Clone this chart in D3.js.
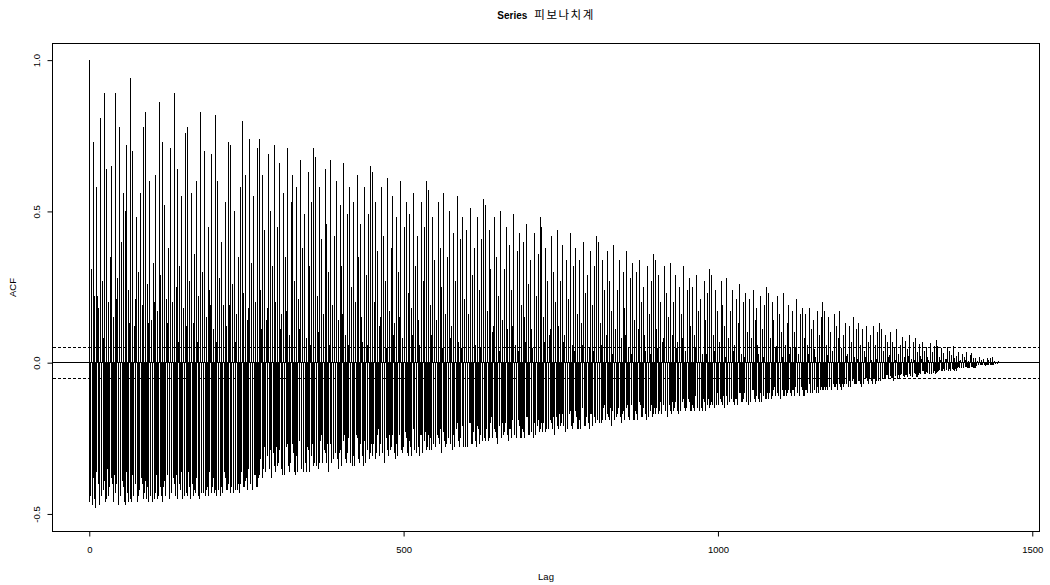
<!DOCTYPE html>
<html>
<head>
<meta charset="utf-8">
<script src="https://cdn.jsdelivr.net/npm/d3@7"></script>
<style>
  body { margin: 0; background: #fff; }
  svg { display: block; }
  text { font-family: "Liberation Sans", Arial, sans-serif; fill: #000; }
</style>
</head>
<body>
<svg width="1050" height="585"></svg>
<script>
// ACF by lag (lag = index) (30 lags per row)
const acfValues = [
  1.00,-.46,-.44,.31,.14,-.47,.73,-.38,-.45,.22,-.48,-.36,.58,.22,-.40,.18,-.35,-.47,.81,-.44,-.38,.27,.08,-.42,.89,-.39,-.46,.64,-.45,-.35,
  .20,-.44,-.41,.35,.14,-.38,.65,-.40,-.46,.15,-.37,-.43,.89,.21,-.40,.28,-.42,-.47,.78,-.35,-.44,.40,.08,-.39,.56,-.41,-.46,.50,-.47,-.36,
  .72,-.43,-.46,.24,.13,-.45,.94,-.46,-.37,.70,-.41,-.44,.12,.21,-.40,.48,-.36,-.46,.30,-.44,-.42,.56,.08,-.38,.19,-.40,-.45,.78,-.43,-.39,
  .83,-.45,-.41,.26,.13,-.46,.60,-.44,-.36,.14,-.46,-.42,.33,.20,-.45,.62,-.43,-.37,.17,-.45,-.44,.86,.07,-.41,.29,-.44,-.46,.73,-.41,-.39,
  .52,-.44,-.40,.21,.13,-.37,.38,-.39,-.45,.71,-.43,-.41,.10,.20,-.38,.89,-.40,-.44,.25,-.37,-.45,.64,.07,-.40,.32,-.42,-.36,.55,-.45,-.43,
  .18,-.42,-.44,.76,.12,-.43,.78,-.44,-.36,.27,-.41,-.45,.56,.20,-.40,.13,-.44,-.42,.36,-.43,-.38,.60,.07,-.44,.22,-.45,-.35,.83,-.38,-.43,
  .30,-.43,-.40,.70,.12,-.44,.15,-.42,-.41,.45,-.44,-.36,.24,.19,-.43,.69,-.41,-.38,.11,-.43,-.42,.82,.07,-.44,.60,-.42,-.39,.28,-.44,-.37,
  .40,-.41,-.43,.19,.12,-.36,.53,-.38,-.42,.12,-.42,-.40,.73,.19,-.43,.72,-.41,-.37,.26,-.43,-.41,.50,.07,-.42,.16,-.42,-.38,.35,-.40,-.43,
  .58,-.40,-.36,.80,.11,-.41,.23,-.41,-.39,.62,-.38,-.42,.14,.18,-.35,.74,-.35,-.40,.33,-.40,-.42,.55,.07,-.37,.20,-.37,-.41,.71,-.41,-.38,
  .74,-.37,-.32,.24,.11,-.38,.62,-.35,-.28,.44,-.26,-.36,.14,.18,-.31,.69,-.33,-.35,.50,-.29,-.38,.32,.06,-.30,.72,-.34,-.36,.20,-.28,-.34,
  .45,-.33,-.29,.66,.11,-.35,.16,-.37,-.32,.56,-.31,-.37,.35,.17,-.28,.71,-.27,-.34,.09,-.36,-.33,.53,.06,-.27,.62,-.30,-.36,.27,-.37,-.31,
  .58,-.33,-.36,.21,.11,-.26,.67,-.27,-.35,.38,-.36,-.30,.49,.17,-.33,.08,-.36,-.28,.63,-.29,-.36,.32,.06,-.31,.53,-.27,-.34,.71,-.33,-.29,
  .68,-.34,-.30,.22,.10,-.35,.58,-.33,-.26,.41,-.24,-.33,.13,.16,-.29,.64,-.30,-.33,.46,-.27,-.36,.30,.06,-.27,.67,-.31,-.33,.19,-.26,-.32,
  .42,-.30,-.27,.60,.10,-.32,.14,-.35,-.30,.52,-.29,-.34,.32,.16,-.26,.66,-.24,-.32,.09,-.33,-.30,.49,.06,-.25,.58,-.27,-.33,.25,-.34,-.29,
  .53,-.31,-.34,.20,.10,-.24,.62,-.25,-.32,.35,-.33,-.27,.46,.15,-.31,.07,-.34,-.26,.58,-.27,-.33,.29,.06,-.29,.49,-.25,-.32,.65,-.30,-.27,
  .63,-.31,-.27,.20,.10,-.32,.53,-.30,-.24,.37,-.22,-.31,.12,.15,-.27,.58,-.28,-.30,.42,-.24,-.33,.27,.05,-.25,.61,-.29,-.31,.17,-.24,-.29,
  .38,-.28,-.24,.55,.09,-.30,.13,-.32,-.27,.48,-.26,-.31,.30,.15,-.24,.60,-.22,-.29,.08,-.30,-.28,.45,.05,-.23,.53,-.25,-.30,.23,-.31,-.26,
  .49,-.28,-.31,.18,.09,-.22,.56,-.22,-.29,.32,-.30,-.25,.42,.14,-.28,.06,-.31,-.24,.53,-.24,-.30,.27,.05,-.26,.45,-.23,-.29,.60,-.28,-.24,
  .57,-.29,-.25,.19,.09,-.29,.48,-.27,-.22,.34,-.20,-.28,.11,.14,-.24,.53,-.25,-.27,.38,-.22,-.30,.25,.05,-.23,.56,-.26,-.28,.16,-.22,-.27,
  .35,-.25,-.22,.50,.08,-.27,.12,-.29,-.25,.43,-.24,-.28,.27,.13,-.22,.55,-.20,-.26,.07,-.28,-.25,.41,.05,-.21,.48,-.23,-.28,.21,-.28,-.24,
  .44,-.26,-.28,.16,.08,-.20,.51,-.20,-.27,.29,-.27,-.23,.38,.13,-.26,.06,-.28,-.21,.48,-.22,-.27,.24,.05,-.24,.41,-.21,-.26,.54,-.25,-.22,
  .52,-.26,-.22,.17,.08,-.26,.44,-.25,-.20,.31,-.18,-.25,.10,.12,-.22,.48,-.23,-.25,.35,-.20,-.27,.22,.04,-.21,.50,-.24,-.25,.14,-.20,-.24,
  .31,-.23,-.20,.45,.08,-.24,.11,-.26,-.22,.39,-.22,-.25,.24,.12,-.19,.49,-.18,-.24,.06,-.25,-.23,.37,.04,-.19,.43,-.21,-.25,.19,-.25,-.22,
  .40,-.23,-.25,.15,.07,-.18,.46,-.18,-.24,.26,-.24,-.20,.34,.11,-.23,.05,-.25,-.19,.43,-.20,-.24,.22,.04,-.21,.36,-.19,-.23,.48,-.22,-.20,
  .45,-.23,-.20,.15,.07,-.23,.38,-.22,-.17,.27,-.16,-.22,.09,.11,-.19,.42,-.20,-.22,.30,-.18,-.24,.20,.04,-.18,.44,-.21,-.22,.12,-.17,-.21,
  .27,-.20,-.17,.39,.07,-.21,.09,-.23,-.19,.34,-.19,-.22,.21,.10,-.17,.43,-.16,-.21,.06,-.22,-.20,.32,.04,-.16,.38,-.18,-.22,.16,-.22,-.19,
  .34,-.20,-.22,.13,.06,-.15,.40,-.16,-.21,.23,-.21,-.18,.29,.10,-.20,.05,-.22,-.17,.37,-.17,-.21,.19,.04,-.18,.32,-.16,-.20,.42,-.19,-.17,
  .40,-.20,-.17,.13,.06,-.20,.34,-.19,-.15,.24,-.14,-.19,.08,.09,-.17,.37,-.18,-.19,.27,-.15,-.21,.17,.03,-.16,.39,-.18,-.19,.11,-.15,-.18,
  .24,-.17,-.15,.34,.06,-.18,.08,-.20,-.17,.30,-.16,-.19,.18,.09,-.15,.37,-.14,-.18,.05,-.19,-.17,.28,.03,-.14,.33,-.16,-.19,.14,-.19,-.16,
  .30,-.17,-.19,.11,.05,-.13,.34,-.14,-.18,.20,-.18,-.15,.25,.09,-.17,.04,-.19,-.14,.32,-.15,-.18,.16,.03,-.16,.27,-.14,-.18,.36,-.17,-.15,
  .34,-.17,-.15,.11,.05,-.17,.29,-.16,-.13,.20,-.12,-.17,.07,.08,-.14,.32,-.15,-.16,.23,-.13,-.18,.15,.03,-.14,.33,-.16,-.17,.09,-.13,-.16,
  .20,-.15,-.13,.29,.05,-.16,.07,-.17,-.14,.25,-.14,-.16,.16,.08,-.13,.32,-.12,-.15,.04,-.16,-.15,.24,.03,-.12,.28,-.13,-.16,.12,-.16,-.14,
  .25,-.15,-.16,.09,.05,-.11,.29,-.12,-.15,.17,-.16,-.13,.21,.07,-.15,.03,-.16,-.12,.27,-.13,-.16,.14,.03,-.14,.23,-.12,-.15,.31,-.14,-.13,
  .29,-.14,-.12,.09,.04,-.15,.24,-.14,-.11,.17,-.10,-.14,.06,.07,-.12,.27,-.13,-.14,.19,-.11,-.15,.12,.02,-.11,.28,-.13,-.14,.08,-.11,-.13,
  .17,-.12,-.11,.24,.04,-.13,.06,-.14,-.12,.21,-.12,-.14,.13,.06,-.10,.26,-.10,-.13,.03,-.13,-.12,.20,.02,-.10,.23,-.11,-.13,.10,-.14,-.12,
  .21,-.12,-.13,.08,.04,-.09,.24,-.09,-.12,.14,-.13,-.11,.18,.06,-.12,.03,-.13,-.10,.22,-.10,-.13,.11,.02,-.11,.19,-.10,-.12,.25,-.12,-.10,
  .23,-.12,-.10,.08,.035,-.12,.20,-.11,-.09,.14,-.08,-.11,.05,.055,-.10,.22,-.10,-.11,.16,-.09,-.12,.10,.02,-.09,.23,-.11,-.11,.06,-.09,-.11,
  .13,-.10,-.09,.19,.03,-.10,.05,-.11,-.09,.17,-.09,-.11,.10,.05,-.08,.21,-.08,-.10,.03,-.11,-.10,.16,.02,-.08,.18,-.09,-.11,.08,-.11,-.09,
  .16,-.09,-.10,.06,.03,-.07,.18,-.07,-.10,.11,-.10,-.08,.14,.045,-.09,.02,-.10,-.08,.17,-.08,-.10,.09,.017,-.09,.15,-.08,-.09,.20,-.09,-.08,
  .17,-.09,-.08,.06,.027,-.09,.15,-.08,-.07,.10,-.06,-.09,.03,.04,-.07,.16,-.08,-.08,.12,-.07,-.09,.08,.015,-.07,.17,-.08,-.09,.05,-.07,-.08,
  .09,-.07,-.06,.13,.022,-.07,.03,-.08,-.07,.12,-.06,-.08,.07,.035,-.06,.15,-.05,-.07,.02,-.07,-.07,.11,.013,-.06,.13,-.06,-.07,.06,-.08,-.06,
  .11,-.06,-.07,.04,.02,-.05,.12,-.05,-.06,.07,-.07,-.05,.09,.03,-.06,.01,-.07,-.05,.12,-.05,-.07,.06,.011,-.06,.10,-.05,-.06,.13,-.06,-.05,
  .11,-.055,-.05,.04,.017,-.055,.09,-.05,-.04,.07,-.04,-.055,.02,.026,-.045,.10,-.05,-.05,.07,-.04,-.06,.05,.01,-.045,.11,-.05,-.055,.03,-.04,-.05,
  .058,-.042,-.037,.084,.014,-.045,.02,-.048,-.041,.072,-.04,-.047,.045,.022,-.036,.091,-.034,-.044,.012,-.046,-.042,.068,.008,-.035,.08,-.038,-.046,.035,-.047,-.04,
  .061,-.035,-.038,.022,.011,-.027,.07,-.028,-.037,.04,-.038,-.031,.052,.018,-.035,.008,-.038,-.03,.066,-.03,-.038,.034,.006,-.033,.056,-.029,-.036,.074,-.034,-.03,
  .055,-.028,-.024,.018,.008,-.028,.047,-.026,-.021,.033,-.02,-.027,.011,.013,-.023,.052,-.025,-.026,.037,-.022,-.029,.024,.005,-.022,.054,-.025,-.027,.015,-.021,-.026,
  .023,-.017,-.015,.034,.006,-.018,.008,-.019,-.016,.029,-.016,-.019,.018,.009,-.014,.036,-.014,-.018,.005,-.018,-.017,.027,.003,-.014,.032,-.015,-.018,.014,-.019,-.016,
  .015,-.009,-.01,.006,.003,-.007,.018,-.007,-.009,.01,-.009,-.008,.013,.004,-.009,.002,-.01,-.007,.017,-.008,-.009,.008,.002,-.008,.014,-.007,-.009,.019,-.009,-.008,
  .006,-.003,-.004,.002,-.003,-.003,.004,-.002,-.002,.001
];

const xTicks = [0, 500, 1000, 1500];
const yTicks = [-0.5, 0, 0.5, 1];
const ciLimit = 0.0514;
const titleMain = "Series";
const titleSeries = "피보나치계";
const xLabel = "Lag";
const yLabel = "ACF";

const svg = d3.select("svg");
const margin = { top: 43.5, right: 10.5, bottom: 53.5, left: 52.5 };
const width = +svg.attr("width") - margin.left - margin.right;
const height = +svg.attr("height") - margin.top - margin.bottom;
const g = svg
  .append("g")
  .attr("transform", `translate(${margin.left},${margin.top})`);

const x = d3.scaleLinear().domain([-58.5, 1511.5]).range([0, width]);
const y = d3.scaleLinear().domain([-0.558, 1.055]).range([height, 0]);

// one vertical line per lag
g.append("g")
  .attr("shape-rendering", "crispEdges")
  .selectAll("line")
  .data(acfValues)
  .join("line")
  .attr("x1", (d, i) => x(i))
  .attr("x2", (d, i) => x(i))
  .attr("y1", y(0))
  .attr("y2", (d) => y(d))
  .attr("stroke", "#000")
  .attr("stroke-width", 1);

// zero line and confidence limits
g.append("line")
  .attr("x1", 0)
  .attr("x2", width)
  .attr("y1", y(0))
  .attr("y2", y(0))
  .attr("stroke", "#000")
  .attr("shape-rendering", "crispEdges");

g.selectAll(".ci")
  .data([ciLimit, -ciLimit])
  .join("line")
  .attr("class", "ci")
  .attr("x1", 0)
  .attr("x2", width)
  .attr("y1", (d) => y(d))
  .attr("y2", (d) => y(d))
  .attr("stroke", "#000")
  .attr("stroke-dasharray", "3,2")
  .attr("shape-rendering", "crispEdges");

// axes
const xAxis = g
  .append("g")
  .attr("transform", `translate(0,${height})`)
  .call(d3.axisBottom(x).tickValues(xTicks).tickSize(5).tickFormat(d3.format("d")));
xAxis.select(".domain").remove();
xAxis.selectAll("text")
  .attr("y", 15)
  .attr("dy", "0.71em")
  .style("font-size", "9.5px")
  .style("font-family", "Liberation Sans, Arial, sans-serif");

const yAxis = g
  .append("g")
  .call(d3.axisLeft(y).tickValues(yTicks).tickSize(5).tickFormat((d) => d.toFixed(1)));
yAxis.select(".domain").remove();
yAxis.selectAll("text")
  .attr("transform", "rotate(-90)")
  .attr("x", 0)
  .attr("y", -13)
  .attr("dy", 0)
  .attr("text-anchor", "middle")
  .style("font-size", "9.5px")
  .style("font-family", "Liberation Sans, Arial, sans-serif");

// frame
g.append("rect")
  .attr("width", width)
  .attr("height", height)
  .attr("fill", "none")
  .attr("stroke", "#000")
  .attr("shape-rendering", "crispEdges");

// titles
const title = svg
  .append("text")
  .attr("x", margin.left + width / 2)
  .attr("y", 19)
  .attr("text-anchor", "middle");
title.append("tspan")
  .attr("font-weight", "bold")
  .attr("font-size", "10px")
  .text(titleMain);
title.append("tspan")
  .attr("dx", 7)
  .attr("font-family", "Noto Sans CJK KR, sans-serif")
  .attr("font-size", "11.5px")
  .attr("letter-spacing", "1.5px")
  .text(titleSeries);

svg.append("text")
  .attr("x", margin.left + width / 2)
  .attr("y", 580)
  .attr("text-anchor", "middle")
  .attr("font-size", "9.5px")
  .text(xLabel);

svg.append("text")
  .attr("transform", `translate(16,${margin.top + height / 2}) rotate(-90)`)
  .attr("text-anchor", "middle")
  .attr("font-size", "9.5px")
  .text(yLabel);
</script>
</body>
</html>
